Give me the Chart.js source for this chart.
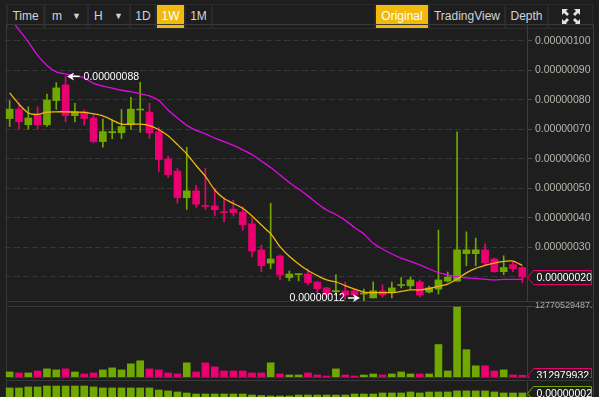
<!DOCTYPE html>
<html>
<head>
<meta charset="utf-8">
<title>Weekly chart</title>
<script src="https://cdn.jsdelivr.net/npm/chart.js@4.4.1/dist/chart.umd.min.js"></script>
<style>
  html, body { margin: 0; padding: 0; }
  body { width: 599px; height: 397px; overflow: hidden; position: relative; background: #1e1e1e; font-family: Arial, "Liberation Sans", sans-serif; }
  .ln { position: absolute; background: #383838; }
  #bar { position: absolute; left: 6px; top: 4px; width: 587px; height: 25px; background: #2a2a2a; }
  .b { position: absolute; top: 1px; height: 23px; line-height: 23px; background: #1e1e1e; color: #d0d4da; font-size: 12px; text-align: center; }
  .b.on { background: #f0b90b; color: #fff; }
  .b .dd { position: absolute; right: 6px; top: 0; font-size: 9px; }
  canvas { position: absolute; left: 0; }
</style>
</head>
<body>
<div id="bar">
  <div class="b" style="left:2px;width:35px">Time</div>
  <div class="b" style="left:40px;width:41px;text-align:left;padding-left:6px;box-sizing:border-box">m<span class="dd">▼</span></div>
  <div class="b" style="left:83px;width:40px;text-align:left;padding-left:5px;box-sizing:border-box">H<span class="dd">▼</span></div>
  <div class="b" style="left:125px;width:24px">1D</div>
  <div class="b on" style="left:151px;width:27px">1W</div>
  <div class="b" style="left:180px;width:25px">1M</div>
  <div class="b" style="left:207px;width:161px"></div>
  <div class="b on" style="left:370px;width:52px">Original</div>
  <div class="b" style="left:424px;width:74px">TradingView</div>
  <div class="b" style="left:500px;width:41px">Depth</div>
  <div class="b" style="left:543px;width:43px">
    <svg width="18" height="16" viewBox="0 0 18 16" style="margin-top:4px">
      <g fill="#e2e2e2">
        <polygon points="0,0 6,0 4,2 7,5 5,7 2,4 0,6"/>
        <polygon points="18,0 12,0 14,2 11,5 13,7 16,4 18,6"/>
        <polygon points="0,16 6,16 4,14 7,11 5,9 2,12 0,10"/>
        <polygon points="18,16 12,16 14,14 11,11 13,9 16,12 18,10"/>
      </g>
    </svg>
  </div>
</div>

<div class="ln" style="left:6px;top:24px;width:587px;height:1px"></div>
<div class="ln" style="left:6px;top:301px;width:587px;height:1px"></div>
<div class="ln" style="left:6px;top:306px;width:587px;height:1px"></div>
<div class="ln" style="left:6px;top:377px;width:587px;height:1px"></div>
<div class="ln" style="left:6px;top:380px;width:587px;height:1px"></div>
<div class="ln" style="left:6px;top:24px;width:1px;height:373px"></div>
<div class="ln" style="left:593px;top:24px;width:1px;height:373px"></div>

<canvas id="priceChart" width="599" height="278" style="top:24px"></canvas>
<canvas id="volumeChart" width="599" height="78" style="top:300px"></canvas>
<canvas id="lowerChart" width="599" height="30" style="top:381px"></canvas>

<script>
// prices in units of 0.00000001
const opens = [73.7, 76.9, 71.6, 74.9, 71.6, 79.8, 85.1, 74.7, 76.0, 73.9,
  65.9, 68.9, 68.9, 71.6, 76.6, 75.9, 69.2, 60.0, 55.9, 46.9,
  49.2, 44.2, 44.1, 42.0, 43.0, 42.0, 38.0, 29.2, 24.7, 27.1,
  19.8, 20.8, 21.0, 18.3, 16.3, 15.0, 15.3, 15.3, 14.2, 12.9,
  15.3, 14.9, 17.1, 17.0, 18.3, 14.9, 15.9, 18.6, 18.6, 27.9,
  27.9, 29.2, 26.1, 21.8, 24.2, 23.2];
const highs = [79.8, 79.0, 77.7, 77.7, 82.0, 85.9, 88.0, 78.9, 76.6, 74.9,
  73.5, 73.2, 76.8, 80.9, 86.0, 78.9, 70.6, 61.0, 56.8, 64.0,
  51.1, 56.8, 50.1, 46.9, 46.0, 43.8, 39.7, 30.8, 45.0, 27.5,
  22.0, 21.0, 22.7, 18.5, 16.5, 20.8, 18.3, 15.9, 15.9, 18.3,
  17.3, 18.3, 19.8, 20.1, 19.0, 16.9, 35.9, 21.7, 69.2, 35.3,
  33.2, 31.2, 26.4, 27.2, 25.2, 23.5];
const lows = [71.0, 70.2, 70.1, 70.1, 71.0, 76.8, 72.6, 72.6, 71.5, 65.4,
  64.0, 66.9, 66.9, 70.0, 69.1, 67.0, 55.7, 53.7, 45.0, 42.9,
  43.7, 42.9, 40.8, 38.7, 40.7, 35.8, 26.9, 21.8, 22.8, 19.0,
  18.7, 18.7, 17.3, 14.7, 13.3, 13.8, 12.5, 13.5, 12.0, 12.9,
  13.2, 12.9, 16.3, 16.0, 13.2, 14.6, 14.2, 18.3, 18.6, 23.8,
  23.8, 24.2, 21.6, 20.8, 21.8, 18.1];
const closes = [76.9, 72.6, 73.9, 71.6, 80.0, 84.1, 74.7, 76.0, 73.7, 65.9,
  69.3, 69.3, 71.0, 76.9, 76.9, 68.9, 59.8, 54.7, 46.9, 49.2,
  44.7, 43.9, 42.8, 41.8, 41.8, 37.7, 28.8, 23.8, 26.1, 20.7,
  21.0, 21.0, 18.1, 16.0, 14.0, 15.4, 13.9, 13.9, 14.6, 15.3,
  13.9, 16.3, 17.3, 19.0, 13.9, 16.3, 19.0, 20.0, 29.2, 29.2,
  29.2, 24.8, 21.8, 23.2, 22.8, 20.0];
const ma7 = [82.4, 78.6, 75.6, 75.1, 75.9, 76.0, 76.0, 75.9, 75.8, 75.3,
  74.6, 73.2, 71.8, 71.8, 71.8, 71.3, 69.9, 67.9, 64.9, 61.7,
  57.8, 54.1, 49.5, 46.6, 44.9, 43.3, 40.7, 37.6, 34.7, 30.3,
  27.0, 24.4, 22.2, 20.5, 19.0, 18.3, 17.1, 15.9, 14.9, 14.7,
  14.7, 14.7, 15.1, 15.6, 15.6, 16.1, 16.8, 17.6, 19.3, 21.4,
  22.9, 23.9, 24.7, 25.3, 25.4, 23.9];
const ma30 = [108.0, 103.8, 99.7, 95.1, 91.7, 89.5, 88.8, 88.3, 87.5, 85.6,
  84.7, 84.0, 83.3, 82.8, 82.1, 81.4, 79.8, 76.6, 73.9, 71.4,
  69.7, 68.5, 67.1, 65.9, 64.6, 63.1, 61.5, 59.3, 57.1, 54.6,
  52.0, 49.8, 47.5, 44.9, 42.7, 41.2, 39.2, 36.8, 34.6, 31.4,
  29.5, 27.8, 26.4, 25.3, 24.1, 22.7, 21.5, 20.7, 20.1, 19.7,
  19.5, 19.2, 19.0, 19.2, 19.2, 19.2];
const volumes = [0.91e9, 0.73e9, 0.73e9, 1.09e9, 1.46e9, 1.28e9, 1.46e9, 0.91e9, 0.55e9, 0.73e9,
  1.28e9, 1.64e9, 1.28e9, 2.37e9, 2.92e9, 1.46e9, 1.28e9, 0.73e9, 0.55e9, 2.55e9,
  0.91e9, 2.55e9, 1.82e9, 1.09e9, 1.09e9, 1.09e9, 0.73e9, 0.73e9, 2.55e9, 0.55e9,
  0.36e9, 0.36e9, 0.73e9, 0.36e9, 0.18e9, 1.46e9, 0.36e9, 0.18e9, 0.36e9, 0.55e9,
  0.36e9, 0.55e9, 0.91e9, 0.55e9, 0.55e9, 0.55e9, 5.84e9, 1.09e9, 12.58e9, 4.92e9,
  2.01e9, 2.01e9, 1.09e9, 1.28e9, 0.36e9, 312979932];
// lower indicator, units of 0.00000001
const lowerValues = [2.59, 2.59, 2.71, 2.71, 2.82, 2.82, 2.82, 2.82, 2.82, 2.71,
  2.59, 2.59, 2.59, 2.59, 2.59, 2.59, 2.35, 2.24, 2.12, 2.0,
  1.88, 1.88, 1.88, 1.88, 1.88, 1.88, 1.76, 1.70, 1.65, 1.65,
  1.65, 1.76, 1.76, 1.76, 1.76, 1.76, 1.76, 1.88, 1.88, 1.88,
  2.0, 2.0, 2.0, 2.12, 2.0, 2.12, 2.12, 2.12, 2.24, 2.24,
  2.24, 2.24, 2.12, 2.0, 2.0, 2.0];
const priceTicks = [20, 30, 40, 50, 60, 70, 80, 90, 100];
const volumeMax = 12770529487;

const UP = '#70a800', DOWN = '#ea0070';
const weeks = opens.map((_, i) => i + 1);
const colors = closes.map((c, i) => c >= opens[i] ? UP : DOWN);
const fmt = v => (v * 1e-8).toFixed(8);
const FONT = { family: 'Arial, "Liberation Sans", sans-serif', size: 10.5 };
const AXIS_W = 66;
const PAD = { left: 5, right: 6 };

// value tag on the right axis
const tagPlugin = {
  id: 'lastTag',
  afterDraw(chart, args, opts) {
    const { ctx, chartArea } = chart;
    const y = Math.round(chart.scales.y.getPixelForValue(opts.value)) + 0.5;
    const x0 = chartArea.right + 0.5, x1 = 591.5, h = 7;
    ctx.save();
    ctx.beginPath();
    ctx.moveTo(x0, y);
    ctx.lineTo(x0 + 6, y - h);
    ctx.lineTo(x1, y - h);
    ctx.lineTo(x1, y + h);
    ctx.lineTo(x0 + 6, y + h);
    ctx.closePath();
    ctx.fillStyle = '#1e1e1e';
    ctx.fill();
    ctx.strokeStyle = opts.color;
    ctx.lineWidth = 1;
    ctx.stroke();
    ctx.clip();
    ctx.fillStyle = '#fff';
    ctx.font = '10.5px Arial, "Liberation Sans", sans-serif';
    ctx.textBaseline = 'middle';
    ctx.fillText(opts.text, x0 + 9, y + 0.5);
    ctx.restore();
  }
};

function arrow(ctx, tipX, y, tailX) {
  const d = Math.sign(tailX - tipX);
  ctx.lineWidth = 1.5;
  ctx.beginPath();
  ctx.moveTo(tipX + d * 5, y);
  ctx.lineTo(tailX, y);
  ctx.stroke();
  ctx.beginPath();
  ctx.moveTo(tipX, y);
  ctx.lineTo(tipX + d * 7, y - 4);
  ctx.lineTo(tipX + d * 5, y);
  ctx.lineTo(tipX + d * 7, y + 4);
  ctx.closePath();
  ctx.fill();
}

// highest high / lowest low marks
const markPlugin = {
  id: 'marks',
  afterDatasetsDraw(chart) {
    const { ctx, chartArea } = chart;
    const xs = chart.scales.x, ys = chart.scales.y;
    const hi = Math.max(...highs), hiI = highs.indexOf(hi);
    const lo = Math.min(...lows), loI = lows.indexOf(lo);
    ctx.save();
    ctx.fillStyle = '#fff';
    ctx.strokeStyle = '#fff';
    ctx.font = '10.5px Arial, "Liberation Sans", sans-serif';
    ctx.textBaseline = 'middle';

    let x = xs.getPixelForValue(hiI) + 1.5;
    let y = ys.getPixelForValue(hi);
    arrow(ctx, x, y, x + 12.5);
    ctx.textAlign = 'left';
    ctx.fillText(fmt(hi), x + 16.5, y + 0.5);

    x = xs.getPixelForValue(loI) - 4;
    y = Math.min(ys.getPixelForValue(lo), chartArea.bottom - 3);
    arrow(ctx, x, y, x - 12);
    ctx.textAlign = 'right';
    ctx.fillText(fmt(lo), x - 15, y + 0.5);
    ctx.restore();
  }
};

const fixAxis = s => { s.width = AXIS_W; s.paddingTop = 0; s.paddingBottom = 0; };
const hiddenX = { type: 'category', display: false, offset: true, grid: { display: false } };
const baseOpts = {
  responsive: false,
  animation: false,
  events: [],
  plugins: { legend: { display: false }, tooltip: { enabled: false } }
};

new Chart(document.getElementById('priceChart'), {
  type: 'bar',
  data: {
    labels: weeks,
    datasets: [
      { type: 'line', label: 'MA7', data: ma7, borderColor: '#f3b70c', borderWidth: 1.3, pointRadius: 0, tension: 0.25, order: 0 },
      { type: 'line', label: 'MA30', data: ma30, borderColor: '#e10ae6', borderWidth: 1.3, pointRadius: 0, tension: 0.25, order: 0 },
      { label: 'body', data: opens.map((o, i) => [o, closes[i]]), backgroundColor: colors, barThickness: 7, minBarLength: 1, grouped: false, order: 1 },
      { label: 'wick', data: lows.map((l, i) => [l, highs[i]]), backgroundColor: colors, barThickness: 1, grouped: false, order: 2 }
    ]
  },
  options: {
    ...baseOpts,
    layout: { padding: { left: PAD.left, right: PAD.right, top: 1, bottom: 1 } },
    scales: {
      x: hiddenX,
      y: {
        position: 'right',
        min: 11.86,
        max: 105.42,
        afterBuildTicks: s => { s.ticks = priceTicks.map(v => ({ value: v })); },
        afterFit: fixAxis,
        ticks: { callback: v => fmt(v), color: '#b5b7ae', font: FONT, padding: 3 },
        grid: { color: '#363636', tickColor: '#4a4a4a', tickLength: 5 },
        border: { display: true, color: '#3c3c3c', dash: [6, 3] }
      }
    },
    plugins: {
      ...baseOpts.plugins,
      lastTag: { value: closes[closes.length - 1], text: fmt(closes[closes.length - 1]), color: DOWN }
    }
  },
  plugins: [markPlugin, tagPlugin]
});

new Chart(document.getElementById('volumeChart'), {
  type: 'bar',
  data: {
    labels: weeks,
    datasets: [{ label: 'Volume', data: volumes, backgroundColor: colors, barThickness: 7 }]
  },
  options: {
    ...baseOpts,
    layout: { padding: { left: PAD.left, right: PAD.right, top: 6, bottom: 1 } },
    scales: {
      x: hiddenX,
      y: {
        position: 'right',
        min: 0,
        max: volumeMax,
        afterBuildTicks: s => { s.ticks = [{ value: volumeMax }]; },
        afterFit: fixAxis,
        ticks: { callback: v => v.toFixed(8), color: '#a9aba3', font: { ...FONT, size: 9 }, padding: 3 },
        grid: { drawOnChartArea: false, tickColor: '#4a4a4a', tickLength: 5 },
        border: { display: true, color: '#3c3c3c' }
      }
    },
    plugins: {
      ...baseOpts.plugins,
      lastTag: { value: volumes[volumes.length - 1], text: volumes[volumes.length - 1].toFixed(8), color: DOWN }
    }
  },
  plugins: [tagPlugin]
});

new Chart(document.getElementById('lowerChart'), {
  type: 'bar',
  data: {
    labels: weeks,
    datasets: [{ label: 'Indicator', data: lowerValues, backgroundColor: UP, barThickness: 7 }]
  },
  options: {
    ...baseOpts,
    layout: { padding: { left: PAD.left, right: PAD.right, top: 1, bottom: 1 } },
    scales: {
      x: hiddenX,
      y: {
        position: 'right',
        min: 0,
        max: 3.29,
        afterFit: fixAxis,
        ticks: { display: false },
        grid: { display: false },
        border: { display: true, color: '#3c3c3c' }
      }
    },
    plugins: {
      ...baseOpts.plugins,
      lastTag: { value: lowerValues[lowerValues.length - 1], text: fmt(lowerValues[lowerValues.length - 1]), color: UP }
    }
  },
  plugins: [tagPlugin]
});
</script>
</body>
</html>
